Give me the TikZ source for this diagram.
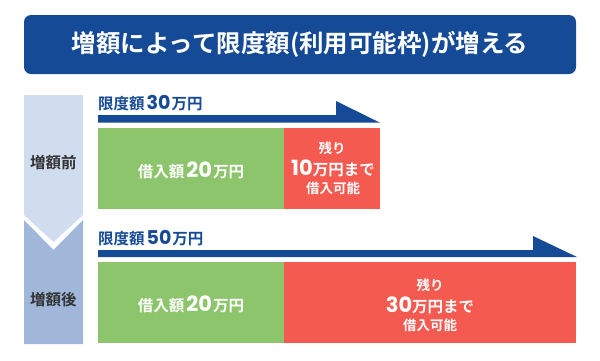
\documentclass[tikz,border=0pt]{standalone}
\usepackage{fontspec}
\setmainfont{Noto Sans CJK JP}[BoldFont={* Bold}]
\newfontfamily\num{Poppins}[BoldFont={* Bold}]
\definecolor{navy}{HTML}{154A97}
\definecolor{colA}{HTML}{CFDDEE}
\definecolor{colB}{HTML}{A0B7DA}
\definecolor{grn}{HTML}{8DC56C}
\definecolor{rd}{HTML}{F45A50}
\definecolor{dgray}{HTML}{333333}
\newcommand{\bn}[2]{\hspace{2pt}{\num\fontsize{#1}{#1}\selectfont\bfseries #2}\hspace{1pt}}
\begin{document}
\begin{tikzpicture}[x=1pt,y=-1pt,
  titlebox/.style={fill=navy,rounded corners=7pt,minimum width=552pt,minimum height=59pt,inner sep=0pt,text=white,font=\bfseries\fontsize{24.5}{26}\selectfont},
  greenbox/.style={fill=grn,anchor=north west,inner sep=0pt,minimum height=81pt},
  redbox/.style={fill=rd,anchor=north west,inner sep=0pt,minimum height=81pt},
  wtxt/.style={text=white,inner sep=0pt,font=\bfseries\fontsize{15.5}{17}\selectfont},
  smtxt/.style={text=white,inner sep=0pt,font=\bfseries\fontsize{13.5}{15}\selectfont},
  coltxt/.style={text=dgray,inner sep=0pt,font=\bfseries\fontsize{15.5}{17}\selectfont},
  limtxt/.style={text=navy,inner sep=0pt,anchor=west,font=\bfseries\fontsize{15.5}{17}\selectfont}]
\useasboundingbox (0,0) rectangle (600,360);
\node[titlebox] (title) at (300,44.5) {増額によって限度額(利用可能枠)が増える};
% column
\fill[colA] (24,95) -- (83,95) -- (83,215) -- (53.5,242) -- (24,215) -- cycle;
\fill[colB] (24,220) -- (53.5,250) -- (83,220) -- (83,344) -- (24,344) -- cycle;
\node[coltxt] (before) at (53.5,163) {増額前};
\node[coltxt] (after) at (53.5,300) {増額後};
% top group
\node[limtxt] (lim1) at (98,103) {限度額\bn{19}{30}万円};
\fill[navy] (98,115) -- (336,115) -- (336,101) -- (380,122.7) -- (98,122.7) -- cycle;
\node[greenbox,minimum width=186pt] (g1) at (98,128) {};
\node[redbox,minimum width=96pt] (r1) at (284,128) {};
\node[wtxt] (g1t) at (191,170) {借入額\bn{21}{20}万円};
\node[smtxt] (r1a) at (332,148) {残り};
\node[wtxt] (r1b) at (333,168) {{\num\fontsize{21}{21}\selectfont\bfseries 10}万円まで};
\node[smtxt] (r1c) at (333,188) {借入可能};
% bottom group
\node[limtxt] (lim2) at (98,238) {限度額\bn{19}{50}万円};
\fill[navy] (98,250) -- (533,250) -- (533,236) -- (577,257) -- (98,257) -- cycle;
\node[greenbox,minimum width=186pt] (g2) at (98,262) {};
\node[redbox,minimum width=292pt] (r2) at (284,262) {};
\node[wtxt] (g2t) at (191,304) {借入額\bn{21}{20}万円};
\node[smtxt] (r2a) at (430,285) {残り};
\node[wtxt] (r2b) at (430,305) {{\num\fontsize{21}{21}\selectfont\bfseries 30}万円まで};
\node[smtxt] (r2c) at (430,325) {借入可能};
\end{tikzpicture}
\end{document}
